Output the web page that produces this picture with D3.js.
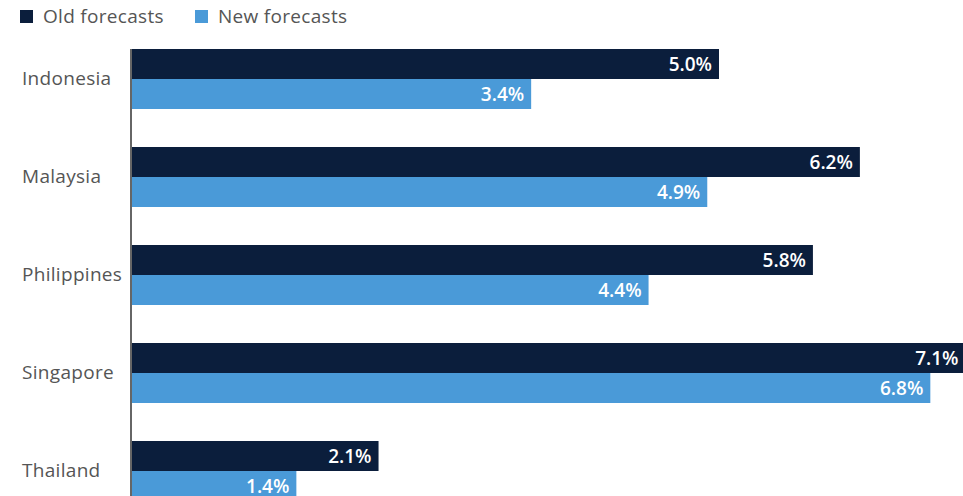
<!DOCTYPE html>
<html>
<head>
<meta charset="utf-8">
<script src="https://cdn.jsdelivr.net/npm/d3@7"></script>
<style>
  html, body { margin: 0; padding: 0; background: #fff; overflow: hidden; }
  svg { display: block; font-family: "Open Sans", Lato, sans-serif; }
</style>
</head>
<body>
<svg id="chart" width="963" height="496"></svg>
<script>
// GDP growth forecasts by country
const countries = ["Indonesia", "Malaysia", "Philippines", "Singapore", "Thailand"];
const oldForecasts = [5.0, 6.2, 5.8, 7.1, 2.1];
const newForecasts = [3.4, 4.9, 4.4, 6.8, 1.4];
const seriesNames = ["Old forecasts", "New forecasts"];
const seriesColors = ["#0b1e3c", "#4a9ad8"];

const rows = countries.map((c, i) => ({
  country: c,
  values: [
    { key: seriesNames[0], value: oldForecasts[i] },
    { key: seriesNames[1], value: newForecasts[i] }
  ]
}));

const svg = d3.select("#chart");
const x0 = 132;
const fontFamily = "'Open Sans', Lato, sans-serif";

const x = d3.scaleLinear().domain([0, 1]).range([x0, x0 + 117.4]);
const y = d3.scaleBand().domain(countries).range([49, 501]).paddingInner(38 / 98).paddingOuter(0);
const ySub = d3.scaleBand().domain(seriesNames).range([0, y.bandwidth()]);
const color = d3.scaleOrdinal().domain(seriesNames).range(seriesColors);

// Legend
const legend = svg.append("g");
const legendX = [20, 195];
seriesNames.forEach((name, i) => {
  const g = legend.append("g").attr("transform", `translate(${legendX[i]},0)`);
  g.append("rect").attr("x", 0).attr("y", 10).attr("width", 13).attr("height", 13).attr("fill", color(name));
  g.append("text").attr("x", 23).attr("y", 16.5).attr("dy", "0.35em")
    .attr("font-size", 19).attr("letter-spacing", 0.3).attr("fill", "#555").text(name);
});

// Bars
const groups = svg.selectAll(".grp").data(rows).join("g")
  .attr("class", "grp")
  .attr("transform", d => `translate(0,${y(d.country)})`);

groups.selectAll("rect").data(d => d.values).join("rect")
  .attr("x", x(0))
  .attr("y", d => ySub(d.key))
  .attr("width", d => x(d.value) - x(0))
  .attr("height", ySub.bandwidth())
  .attr("fill", d => color(d.key));

groups.selectAll("text.val").data(d => d.values).join("text")
  .attr("class", "val")
  .attr("x", d => x(d.value) - 7)
  .attr("y", d => ySub(d.key) + ySub.bandwidth() / 2)
  .attr("dy", "0.35em")
  .attr("text-anchor", "end")
  .attr("font-size", 19)
  .attr("font-weight", 600)
  .attr("fill", "#fff")
  .text(d => d.value.toFixed(1) + "%");

// Category axis
const yAxis = d3.axisLeft(y).tickSize(0).tickPadding(0);
const axisG = svg.append("g").attr("transform", `translate(${x0 - 1},0)`).call(yAxis);
axisG.select(".domain").remove();
axisG.selectAll("text")
  .attr("x", -109)
  .attr("text-anchor", "start")
  .attr("font-size", 19)
  .attr("letter-spacing", 0.3)
  .attr("font-family", fontFamily)
  .attr("fill", "#555");

svg.append("line")
  .attr("x1", x0 - 1).attr("x2", x0 - 1)
  .attr("y1", 49).attr("y2", 496)
  .attr("stroke", "#666").attr("stroke-width", 2);
</script>
</body>
</html>
